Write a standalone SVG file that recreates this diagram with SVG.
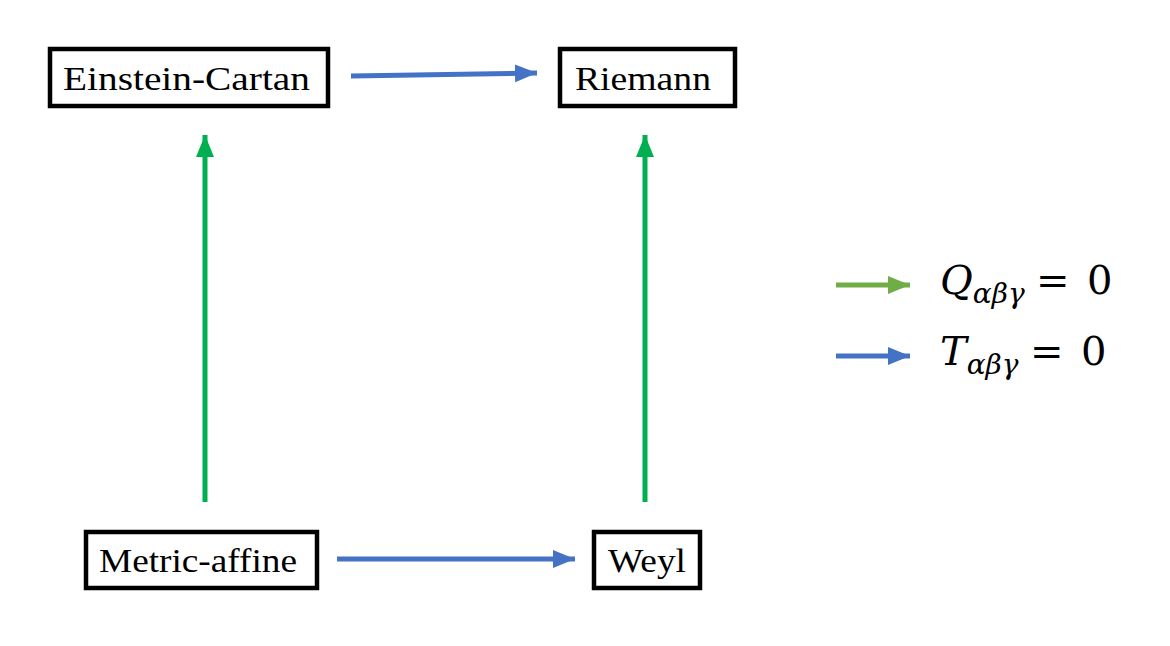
<svg xmlns="http://www.w3.org/2000/svg" width="1170" height="646" viewBox="0 0 1170 646">
<style>
.box{fill:#fff;stroke:#000;stroke-width:4.5}
.lbl{font-family:"Liberation Serif","DejaVu Serif",serif;font-size:33px;fill:#000}
.blue{stroke:#4472c4;stroke-width:5;fill:none}
.green{stroke:#00b050;stroke-width:5;fill:none}
.lgreen{stroke:#70ad47;stroke-width:5;fill:none}
.math{font-family:"DejaVu Serif","Liberation Serif",serif;fill:#000}
</style>
<defs>
<marker id="hb" markerUnits="userSpaceOnUse" markerWidth="24" markerHeight="20" refX="22" refY="10" orient="auto"><path d="M0,1 L22,10 L0,19 Z" fill="#4472c4"/></marker>
<marker id="hg" markerUnits="userSpaceOnUse" markerWidth="24" markerHeight="20" refX="22" refY="10" orient="auto"><path d="M0,1 L22,10 L0,19 Z" fill="#00b050"/></marker>
<marker id="hlg" markerUnits="userSpaceOnUse" markerWidth="24" markerHeight="20" refX="22" refY="10" orient="auto"><path d="M0,1 L22,10 L0,19 Z" fill="#70ad47"/></marker>
</defs>
<rect width="1170" height="646" fill="#fff"/>
<g id="connectors">
<line class="blue" x1="351" y1="76" x2="537" y2="73" marker-end="url(#hb)"/>
<line class="blue" x1="337" y1="559" x2="575" y2="559" marker-end="url(#hb)"/>
<line class="green" x1="205" y1="502" x2="205" y2="135" marker-end="url(#hg)"/>
<line class="green" x1="645" y1="502" x2="645" y2="135" marker-end="url(#hg)"/>
</g>
<g id="einstein-cartan">
<rect class="box" x="50" y="49" width="278" height="57"/>
<text class="lbl" x="63" y="90" textLength="247" lengthAdjust="spacingAndGlyphs">Einstein-Cartan</text>
</g>
<g id="riemann">
<rect class="box" x="560" y="49" width="175" height="57"/>
<text class="lbl" x="575" y="90" textLength="136" lengthAdjust="spacingAndGlyphs">Riemann</text>
</g>
<g id="metric-affine">
<rect class="box" x="86" y="532" width="231" height="56"/>
<text class="lbl" x="99" y="572" textLength="198" lengthAdjust="spacingAndGlyphs">Metric-affine</text>
</g>
<g id="weyl">
<rect class="box" x="594" y="532" width="106" height="56"/>
<text class="lbl" x="608" y="572" textLength="78" lengthAdjust="spacingAndGlyphs">Weyl</text>
</g>
<g id="legend">
<line class="lgreen" x1="836" y1="285" x2="910" y2="285" marker-end="url(#hlg)"/>
<line class="blue" x1="836" y1="356" x2="910" y2="356" marker-end="url(#hb)"/>
<text class="math" x="940" y="294" font-size="40"><tspan font-style="italic">Q</tspan><tspan font-style="italic" font-size="28" dy="9">αβγ</tspan><tspan dy="-9" x="1036">=</tspan><tspan x="1087">0</tspan></text>
<text class="math" x="940" y="365" font-size="40"><tspan font-style="italic">T</tspan><tspan font-style="italic" font-size="28" dy="9">αβγ</tspan><tspan dy="-9" x="1030">=</tspan><tspan x="1081">0</tspan></text>
</g>
</svg>
